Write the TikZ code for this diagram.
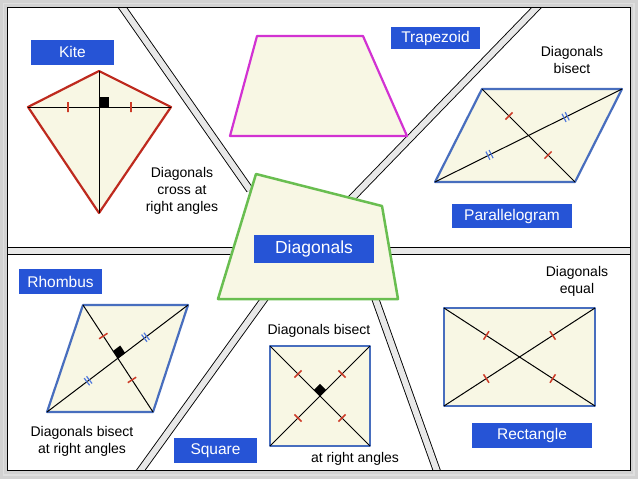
\documentclass[tikz,border=0pt]{standalone}
\usepackage{fontspec}
\setmainfont{Liberation Sans}
\usetikzlibrary{calc}
\definecolor{boxblue}{RGB}{38,84,214}
\definecolor{cream}{RGB}{248,247,228}
\definecolor{kitered}{RGB}{190,42,30}
\definecolor{tickred}{RGB}{205,60,40}
\definecolor{shapeblue}{RGB}{72,110,190}
\definecolor{tickblue}{RGB}{80,120,220}
\definecolor{trapmag}{RGB}{210,50,210}
\definecolor{centgreen}{RGB}{105,190,80}
\tikzset{
    namebox/.style={fill=boxblue, text=white, inner sep=0pt, minimum height=25pt, font=\fontsize{15.5}{15.5}\selectfont}, % blue name labels
    note/.style={align=center, font=\fontsize{14}{17}\selectfont}, % black remarks
    bar/.style={draw=black, line width=0.9pt, double=gray!18, double distance=6pt}, % dividers
    figure/.style={fill=cream, line width=2.2pt, line join=round}, % the shapes
    diag/.style={line width=1pt},
    redtick/.style={sloped, draw=tickred, line width=1.5pt, minimum width=0pt, minimum height=10pt, inner sep=0pt},
    bluetick/.style={sloped, draw=tickblue, line width=1.2pt, minimum width=0pt, minimum height=9pt, inner sep=0pt},
    }

\begin{document}
\begin{tikzpicture}[x=1pt, y=-1pt]
\useasboundingbox (0,0) rectangle (638,479);
\fill[white] (0,0) rectangle (638,479);

% dividers
\draw[bar] (7,251) -- (630,251);
\draw[bar] (120,4) -- (250,190);
\draw[bar] (540,4) -- (350,200);
\draw[bar] (265,298) -- (138,474);
\draw[bar] (375,298) -- (438,474);

% frame
\fill[gray!35, even odd rule] (0,0) rectangle (638,479) (7,7) rectangle (630,470);
\draw[white!75!gray, line width=1.5pt] (3.5,3.5) rectangle (634,475);
\draw[line width=0.8pt] (7,7) rectangle (630,470);

% kite
\coordinate (kt) at (99,71);
\coordinate (kr) at (171,107);
\coordinate (kb) at (99,213);
\coordinate (kl) at (28,107);
\draw[figure, draw=kitered] (kt) -- (kr) -- (kb) -- (kl) -- cycle;
\draw[diag] (kt) -- (kb);
\draw[diag] (kl) -- (kr) node[redtick, pos=.28]{} node[redtick, pos=.72]{};
\fill (99,107) rectangle (109,97);
\node[namebox, minimum width=83pt] (kite) at (72.5,52) {Kite};
\node[note] (kitenote) at (182,191) {Diagonals\\cross at\\right angles};

% trapezoid
\draw[figure, draw=trapmag] (257,36) -- (363,36) -- (407,136) -- (230,136) -- cycle;
\node[namebox, minimum width=89pt, minimum height=22pt] (trapezoid) at (435.5,38) {Trapezoid};

% parallelogram
\coordinate (pa) at (482,89);
\coordinate (pb) at (622,89);
\coordinate (pc) at (575,182);
\coordinate (pd) at (435,182);
\draw[figure, draw=shapeblue] (pa) -- (pb) -- (pc) -- (pd) -- cycle;
\draw[diag] (pa) -- (pc) node[redtick, pos=.29]{} node[redtick, pos=.71]{};
\draw[diag] (pd) -- (pb) node[bluetick, pos=.283]{} node[bluetick, pos=.3]{}
                         node[bluetick, pos=.69]{} node[bluetick, pos=.707]{};
\node[note] (paranote) at (572,60) {Diagonals\\bisect};
\node[namebox, minimum width=120pt, minimum height=24pt] (parallelogram) at (512,216) {Parallelogram};

% rhombus
\coordinate (ra) at (83,305);
\coordinate (rb) at (188,305);
\coordinate (rc) at (153,412);
\coordinate (rd) at (47,412);
\draw[figure, draw=shapeblue] (ra) -- (rb) -- (rc) -- (rd) -- cycle;
\draw[diag] (ra) -- (rc) node[redtick, pos=.29]{} node[redtick, pos=.7]{};
\draw[diag] (rd) -- (rb) node[bluetick, pos=.283]{} node[bluetick, pos=.3]{}
                         node[bluetick, pos=.69]{} node[bluetick, pos=.707]{};
\coordinate (ri) at ($(ra)!.5!(rc)$);
\coordinate (r1) at ($(ri)!9pt!(ra)$);
\coordinate (r2) at ($(ri)!9pt!(rb)$);
\fill (ri) -- (r1) -- ($(r1)+(r2)-(ri)$) -- (r2) -- cycle;
\node[namebox, minimum width=83pt] (rhombus) at (60.5,281.5) {Rhombus};
\node[note] (rhombnote) at (82,441) {Diagonals bisect\\at right angles};

% square
\coordinate (sa) at (270,346);
\coordinate (sb) at (370,346);
\coordinate (sc) at (370,446);
\coordinate (sd) at (270,446);
\draw[figure, draw=shapeblue] (sa) -- (sb) -- (sc) -- (sd) -- cycle;
\draw[diag] (sa) -- (sc) node[redtick, pos=.28]{} node[redtick, pos=.72]{};
\draw[diag] (sd) -- (sb) node[redtick, pos=.28]{} node[redtick, pos=.72]{};
\coordinate (si) at (320,396);
\coordinate (s1) at ($(si)!8.5pt!(sa)$);
\coordinate (s2) at ($(si)!8.5pt!(sb)$);
\fill (si) -- (s1) -- ($(s1)+(s2)-(si)$) -- (s2) -- cycle;
\node[namebox, minimum width=83pt] (square) at (215.5,450.5) {Square};
\node[note] (sqnote) at (319,331) {Diagonals bisect};
\node[note] (sqnote2) at (355,459) {at right angles};

% rectangle
\coordinate (qa) at (444,308);
\coordinate (qb) at (595,308);
\coordinate (qc) at (595,406);
\coordinate (qd) at (444,406);
\draw[figure, draw=shapeblue] (qa) -- (qb) -- (qc) -- (qd) -- cycle;
\draw[diag] (qa) -- (qc) node[redtick, pos=.28]{} node[redtick, pos=.72]{};
\draw[diag] (qd) -- (qb) node[redtick, pos=.28]{} node[redtick, pos=.72]{};
\node[note] (rectnote) at (577,281) {Diagonals\\equal};
\node[namebox, minimum width=120pt] (rectangle) at (532,435.5) {Rectangle};

% centre
\draw[figure, draw=centgreen, line width=2.5pt] (256,174) -- (382,206) -- (398,299) -- (218,299) -- cycle;
\node[namebox, minimum width=120pt, minimum height=28pt, font=\fontsize{17.5}{17.5}\selectfont] (diagonals) at (314,249) {Diagonals};
\end{tikzpicture}
\end{document}
